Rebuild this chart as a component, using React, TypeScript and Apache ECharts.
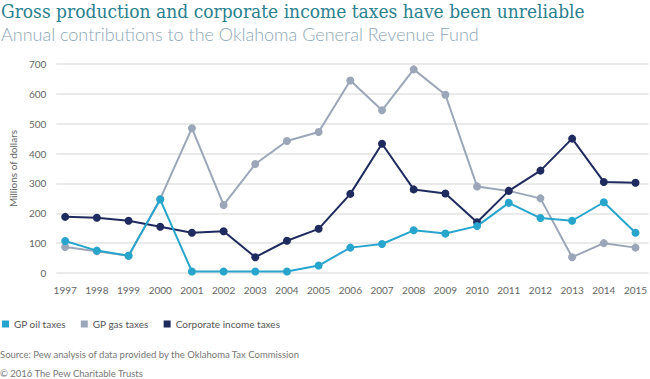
import React, { useEffect, useRef } from "react";
import * as echarts from "echarts";

const years = [1997, 1998, 1999, 2000, 2001, 2002, 2003, 2004, 2005, 2006, 2007, 2008, 2009, 2010, 2011, 2012, 2013, 2014, 2015];
const oilTaxes = [107, 75, 58, 246, 5, 5, 5, 5, 25, 85, 97, 143, 132, 157, 235, 184, 175, 237, 135];
const gasTaxes = [87, 73, 58, 248, 485, 228, 365, 442, 472, 645, 545, 682, 597, 290, 275, 250, 53, 100, 85];
const corpTaxes = [188, 185, 175, 155, 135, 140, 53, 108, 148, 265, 433, 280, 266, 170, 275, 343, 450, 305, 302];
const yTicks = [0, 100, 200, 300, 400, 500, 600, 700];

const OIL = "#28a5cc";
const GAS = "#9ba6b8";
const CORP = "#1f2b5e";

export default function App() {
  const ref = useRef<HTMLDivElement>(null);
  useEffect(() => {
    if (!ref.current) return;
    const chart = echarts.init(ref.current, undefined, { renderer: "svg" });
    const pts = (vals: number[]) => years.map((y, i) => [y, vals[i]]);
    const mkSeries = (name: string, vals: number[], color: string, z: number) => ({
      name,
      type: "line",
      data: pts(vals),
      z,
      symbol: "circle",
      symbolSize: 8,
      lineStyle: { color, width: 2 },
      itemStyle: { color },
      emphasis: { disabled: true },
    });
    chart.setOption({
      animation: false,
      textStyle: { fontFamily: "Lato" },
      title: [
        {
          text: "Gross production and corporate income taxes have been unreliable",
          left: 1,
          top: 1,
          padding: 0,
          textStyle: { fontFamily: "'DejaVu Serif Condensed', 'DejaVu Serif'", fontSize: 19, fontWeight: "normal", color: "#2b7f8f" },
        },
        {
          text: "Annual contributions to the Oklahoma General Revenue Fund",
          left: 1,
          top: 25,
          padding: 0,
          textStyle: { fontFamily: "Lato", fontSize: 18, fontWeight: 300, color: "#8ea7b7" },
        },
        {
          text: "Source: Pew analysis of data provided by the Oklahoma Tax Commission",
          left: 0,
          top: 349,
          padding: 0,
          textStyle: { fontFamily: "Lato", fontSize: 9.5, fontWeight: "normal", color: "#777" },
        },
        {
          text: "© 2016 The Pew Charitable Trusts",
          left: 0,
          top: 368,
          padding: 0,
          textStyle: { fontFamily: "Lato", fontSize: 9.5, fontWeight: "normal", color: "#777" },
        },
      ],
      legend: {
        left: 0,
        top: 319,
        icon: "rect",
        itemWidth: 7,
        itemHeight: 7,
        itemGap: 15,
        padding: [0, 2],
        textStyle: { fontSize: 10, color: "#555", fontFamily: "Lato" },
        data: ["GP oil taxes", "GP gas taxes", "Corporate income taxes"],
        selectedMode: false,
      },
      grid: { left: 52, right: 0, top: 64, bottom: 106, containLabel: false },
      xAxis: {
        type: "value",
        min: years[0] - 0.28,
        max: years[years.length - 1] + 0.415,
        axisLine: { show: false },
        axisTick: { show: false },
        splitLine: { show: false },
        axisLabel: {
          customValues: years,
          formatter: (v: number) => String(Math.round(v)),
          color: "#666",
          fontSize: 10,
          margin: 12,
        },
      },
      yAxis: {
        type: "value",
        min: 0,
        max: 700,
        interval: 100,
        name: "Millions of dollars",
        nameLocation: "middle",
        nameGap: 37,
        nameTextStyle: { color: "#666", fontSize: 10 },
        axisLine: { show: false },
        axisTick: { show: false },
        axisLabel: {
          color: "#666",
          fontSize: 10,
          margin: 10,
          customValues: yTicks,
        },
        splitLine: { lineStyle: { color: "#e3e3e3", width: 1.5 } },
      },
      series: [
        mkSeries("GP gas taxes", gasTaxes, GAS, 2),
        mkSeries("Corporate income taxes", corpTaxes, CORP, 3),
        mkSeries("GP oil taxes", oilTaxes, OIL, 4),
      ],
    });
    return () => chart.dispose();
  }, []);
  return <div ref={ref} style={{ width: 650, height: 379, position: "absolute", left: 0, top: 0 }} />;
}
